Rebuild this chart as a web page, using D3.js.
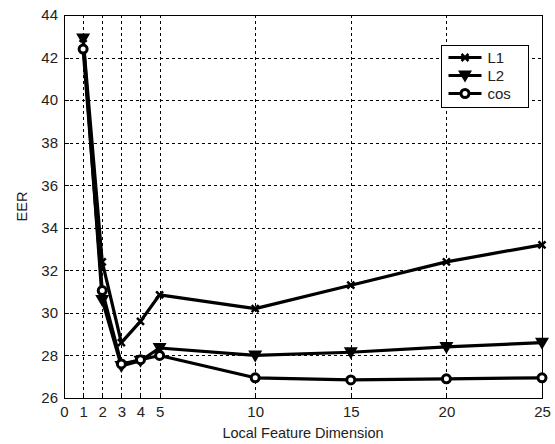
<!DOCTYPE html>
<html>
<head>
<meta charset="utf-8">
<script src="https://cdn.jsdelivr.net/npm/d3@7"></script>
<style>
  body { margin: 0; background: #fff; }
  text { font-family: "Liberation Sans", Arial, sans-serif; fill: #222; }
</style>
</head>
<body>
<div id="chart"></div>
<script>
const dims = [1, 2, 3, 4, 5, 10, 15, 20, 25]
const l1 = [42.9, 32.4, 28.6, 29.6, 30.85, 30.2, 31.3, 32.4, 33.2]
const l2 = [42.9, 30.6, 27.5, 27.75, 28.35, 28.0, 28.15, 28.4, 28.6]
const cosv = [42.4, 31.05, 27.6, 27.8, 28.0, 26.95, 26.85, 26.9, 26.95]
const xTicks = [0, 1, 2, 3, 4, 5, 10, 15, 20, 25]
const yTicks = [26, 28, 30, 32, 34, 36, 38, 40, 42, 44]

const width = 555, height = 444
const margin = { left: 64, right: 13, top: 15, bottom: 46 }

const svg = d3.select("#chart").append("svg")
    .attr("width", width)
    .attr("height", height)

const x = d3.scaleLinear().domain([0, 25]).range([margin.left, width - margin.right])
const y = d3.scaleLinear().domain([26, 44]).range([height - margin.bottom, margin.top])

// grid
const grid = svg.append("g").attr("stroke", "#000").attr("stroke-width", 1).attr("stroke-dasharray", "3,3")
grid.selectAll(".vg").data(xTicks.filter(d => d > 0 && d < 25)).enter().append("line")
    .attr("x1", d => Math.round(x(d)) + 0.5).attr("x2", d => Math.round(x(d)) + 0.5)
    .attr("y1", y(44)).attr("y2", y(26))
grid.selectAll(".hg").data(yTicks.filter(d => d > 26 && d < 44)).enter().append("line")
    .attr("y1", d => Math.round(y(d)) + 0.5).attr("y2", d => Math.round(y(d)) + 0.5)
    .attr("x1", x(0)).attr("x2", x(25))

// axes
const xAxis = d3.axisBottom(x).tickValues(xTicks).tickSize(0).tickPadding(8)
const yAxis = d3.axisLeft(y).tickValues(yTicks).tickSize(0).tickPadding(6)

const gx = svg.append("g").attr("transform", `translate(0,${y(26)})`).call(xAxis)
const gy = svg.append("g").attr("transform", `translate(${x(0)},0)`).call(yAxis)
gx.select(".domain").remove()
gy.select(".domain").remove()
gx.selectAll("text").style("font-size", "15px").attr("fill", "#222")
gy.selectAll("text").style("font-size", "15px").attr("fill", "#222")

// frame
svg.append("rect")
    .attr("x", Math.round(x(0)) + 0.5).attr("y", Math.round(y(44)) + 0.5)
    .attr("width", Math.round(x(25) - x(0))).attr("height", Math.round(y(26) - y(44)))
    .attr("fill", "none").attr("stroke", "#000")

// small inner tick marks
svg.append("g").selectAll("line").data(xTicks).enter().append("line")
    .attr("x1", d => Math.round(x(d)) + 0.5).attr("x2", d => Math.round(x(d)) + 0.5)
    .attr("y1", y(26)).attr("y2", y(26) - 5).attr("stroke", "#000")
svg.append("g").selectAll("line").data(yTicks).enter().append("line")
    .attr("y1", d => Math.round(y(d)) + 0.5).attr("y2", d => Math.round(y(d)) + 0.5)
    .attr("x1", x(0)).attr("x2", x(0) + 5).attr("stroke", "#000")

svg.append("text").attr("x", (x(0) + x(25)) / 2).attr("y", 438)
    .attr("text-anchor", "middle").style("font-size", "14.5px").text("Local Feature Dimension")
svg.append("text").attr("transform", `translate(27,${(y(26) + y(44)) / 2}) rotate(-90)`)
    .attr("text-anchor", "middle").style("font-size", "14.5px").text("EER")

// series
const series = [
    { name: "L1", values: l1, marker: "x" },
    { name: "L2", values: l2, marker: "tri" },
    { name: "cos", values: cosv, marker: "circle" }
]

const line = d3.line().x((d, i) => x(dims[i])).y(d => y(d))

function drawMarker(g, type) {
    if (type === "x") {
        g.append("path").attr("d", "M-3.5,-3.5L3.5,3.5M-3.5,3.5L3.5,-3.5")
            .attr("stroke", "#000").attr("stroke-width", 2.5).attr("fill", "none")
    } else if (type === "tri") {
        g.append("path").attr("d", "M-7,-5L7,-5L0,7Z").attr("fill", "#000")
    } else {
        g.append("circle").attr("r", 4).attr("fill", "#fff").attr("stroke", "#000").attr("stroke-width", 3)
    }
}

series.forEach(s => {
    svg.append("path").datum(s.values).attr("d", line)
        .attr("fill", "none").attr("stroke", "#000").attr("stroke-width", 3.2)
        .attr("stroke-linejoin", "round")
    s.values.forEach((v, i) => {
        const g = svg.append("g").attr("transform", `translate(${x(dims[i])},${y(v)})`)
        drawMarker(g, s.marker)
    })
})

// legend
const lg = svg.append("g").attr("transform", "translate(441.5,45.5)")
lg.append("rect").attr("width", 87).attr("height", 62).attr("fill", "#fff").attr("stroke", "#000")
series.forEach((s, i) => {
    const yy = 12 + i * 18
    lg.append("line").attr("x1", 7).attr("x2", 40).attr("y1", yy).attr("y2", yy)
        .attr("stroke", "#000").attr("stroke-width", 3)
    drawMarker(lg.append("g").attr("transform", `translate(23.5,${yy})`), s.marker)
    lg.append("text").attr("x", 46).attr("y", yy + 5).style("font-size", "15px").text(s.name)
})
</script>
</body>
</html>
